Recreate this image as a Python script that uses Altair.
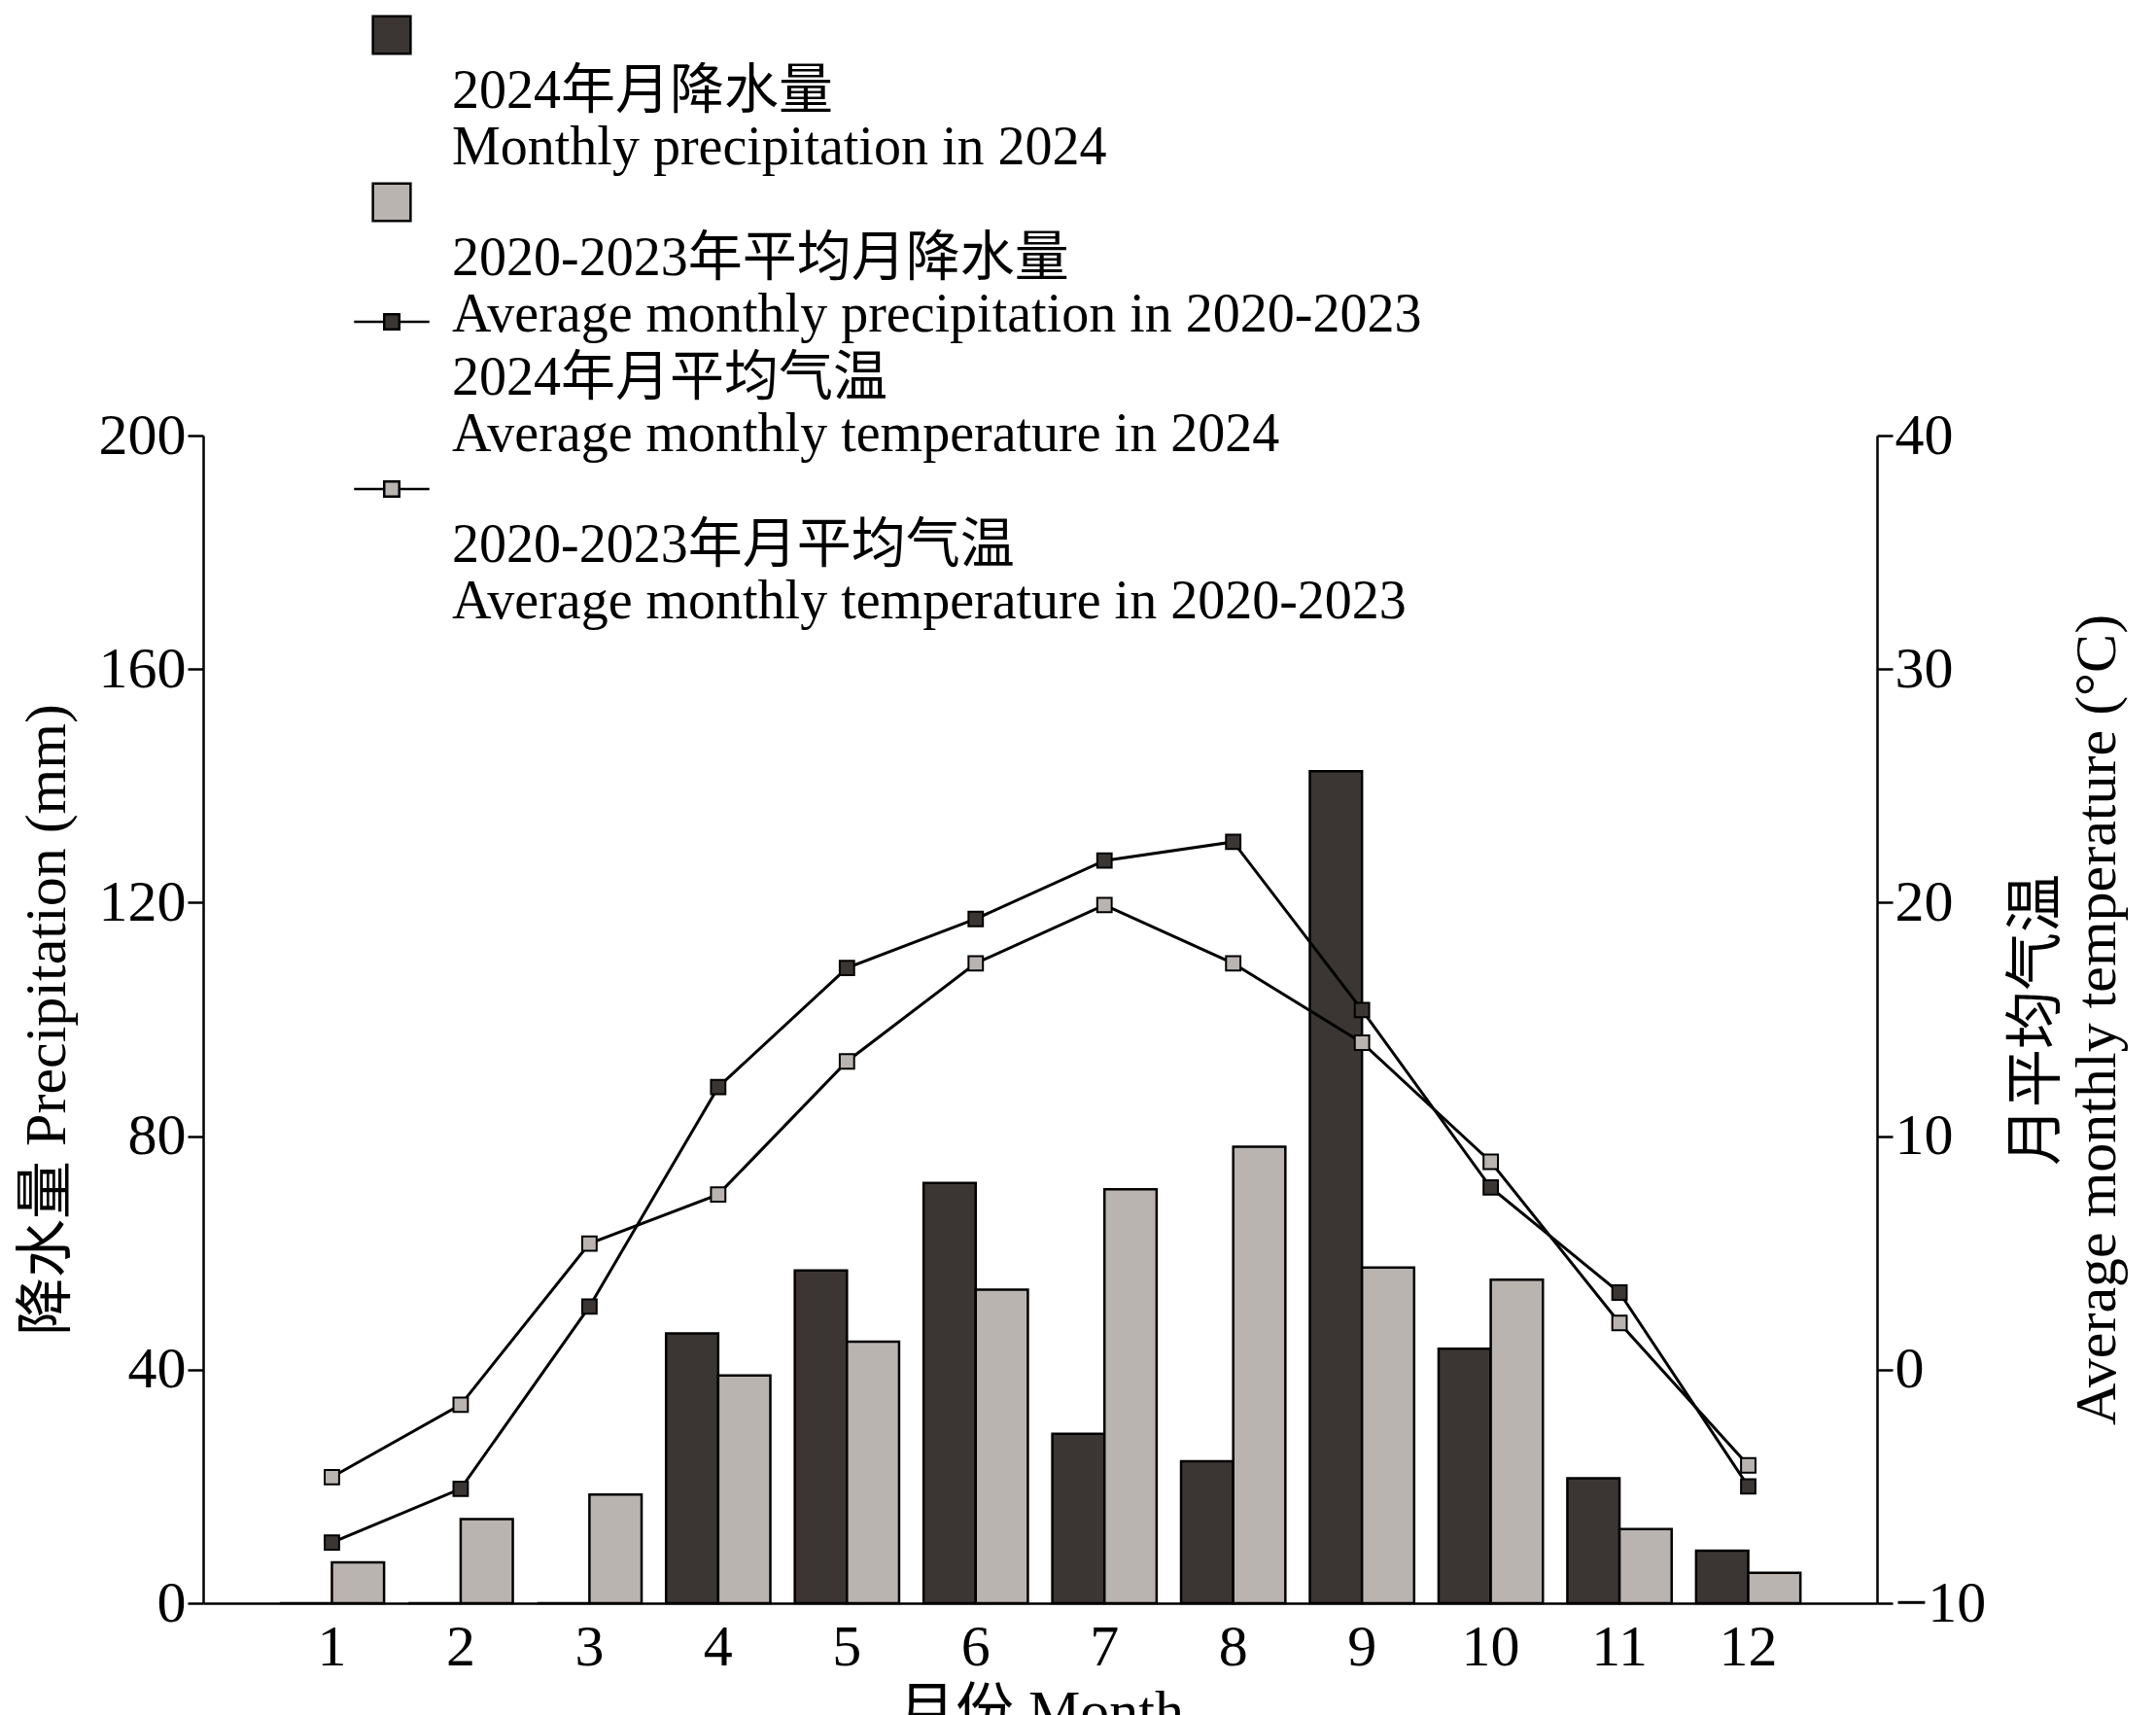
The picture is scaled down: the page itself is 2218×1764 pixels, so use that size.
import altair as alt
import pandas as pd

months = [str(m) for m in range(1, 13)]
precip_2024 = [0, 0, 0, 46.2, 57.0, 72.0, 29.0, 24.3, 142.5, 43.6, 21.4, 9.0]
precip_avg = [7.0, 14.4, 18.6, 39.0, 44.8, 53.7, 70.9, 78.2, 57.5, 55.4, 12.7, 5.2]
temp_2024 = [-7.4, -5.1, 2.7, 12.1, 17.2, 19.3, 21.8, 22.6, 15.4, 7.8, 3.3, -5.0]
temp_avg = [-4.6, -1.5, 5.4, 7.5, 13.2, 17.4, 19.9, 17.4, 14.0, 8.9, 2.0, -4.1]

bar_names = ["2024年月降水量\nMonthly precipitation in 2024",
             " 2020-2023年平均月降水量\nAverage monthly precipitation in 2020-2023"]
line_names = ["2024年月平均气温\nAverage monthly temperature in 2024",
              "2020-2023年月平均气温\nAverage monthly temperature in 2020-2023"]

dark, light = "#3b3634", "#bab4b1"
FONT = "Liberation Serif, Noto Sans CJK SC"

bars = pd.DataFrame({
    "month": months * 2,
    "value": precip_2024 + precip_avg,
    "series": [bar_names[0]] * 12 + [bar_names[1]] * 12,
})
temps = pd.DataFrame({
    "month": months * 2,
    "value": temp_2024 + temp_avg,
    "series": [line_names[0]] * 12 + [line_names[1]] * 12,
})

xenc = alt.X("month:N", sort=months, title="月份 Month",
             scale=alt.Scale(paddingInner=0.19, paddingOuter=0.595),
             axis=alt.Axis(labelAngle=0, ticks=False, labelPadding=16, titlePadding=8))

# empty first line + middle baseline puts the first text line level with the symbol
legend_common = dict(orient="none", title=None, labelFont=FONT, labelFontSize=56,
                     labelLimit=2000, labelExpr="split('\\n' + datum.label, '\\n')",
                     labelOffset=34, rowPadding=-20, labelBaseline="middle")

bar_layer = alt.Chart(bars).mark_bar(stroke="black", strokeWidth=2.5).encode(
    x=xenc,
    xOffset=alt.XOffset("series:N", sort=bar_names, scale=alt.Scale(paddingInner=0, paddingOuter=0)),
    y=alt.Y("value:Q", title="降水量 Precipitation (mm)",
            scale=alt.Scale(domain=[0, 200]),
            axis=alt.Axis(values=[0, 40, 80, 120, 160, 200], grid=False, titlePadding=22)),
    fill=alt.Fill("series:N", sort=bar_names,
                  scale=alt.Scale(domain=bar_names, range=[dark, light]),
                  legend=alt.Legend(legendX=166, legendY=-440, symbolType="square",
                                    symbolSize=1500, symbolStrokeColor="black",
                                    symbolStrokeWidth=2.5, **legend_common)),
)

ytemp = alt.Y("value:Q", title=["月平均气温", "Average monthly temperature (°C)"],
              scale=alt.Scale(domain=[-10, 40]),
              axis=alt.Axis(orient="right", values=[-10, 0, 10, 20, 30, 40], grid=False,
                            titlePadding=22, titleAngle=270))

line_layer = alt.Chart(temps).mark_line(color="black", strokeWidth=3).encode(
    x=xenc, y=ytemp, detail="series:N")
point_layer = alt.Chart(temps).mark_point(shape="square", filled=True, size=220,
                                          stroke="black", strokeWidth=2, opacity=1).encode(
    x=xenc, y=ytemp,
    fill=alt.Fill("series:N", sort=line_names,
                  scale=alt.Scale(domain=line_names, range=[dark, light]),
                  legend=alt.Legend(legendX=166, legendY=-145,
                                    symbolType="M-2,0H-0.4M0.4,0H2M-0.4,-0.4H0.4V0.4H-0.4Z",
                                    symbolSize=1500, symbolStrokeColor="black",
                                    symbolStrokeWidth=2.5, **legend_common)),
)

temp_layer = alt.layer(line_layer, point_layer)

chart = alt.layer(bar_layer, temp_layer).resolve_scale(
    y="independent", fill="independent"
).properties(
    width=1722, height=1201, padding={"left": 10, "top": 0, "right": 10, "bottom": 5}
).configure_axis(
    labelFont=FONT, titleFont=FONT, labelFontSize=60, titleFontSize=60,
    titleFontWeight="normal", labelColor="black", titleColor="black",
    domainColor="black", domainWidth=2.5, tickColor="black", tickWidth=2.5, tickSize=16,
).configure_view(stroke=None).configure_legend(labelColor="black")

chart.save("out.html", embed_options={"renderer": "svg", "actions": False})
